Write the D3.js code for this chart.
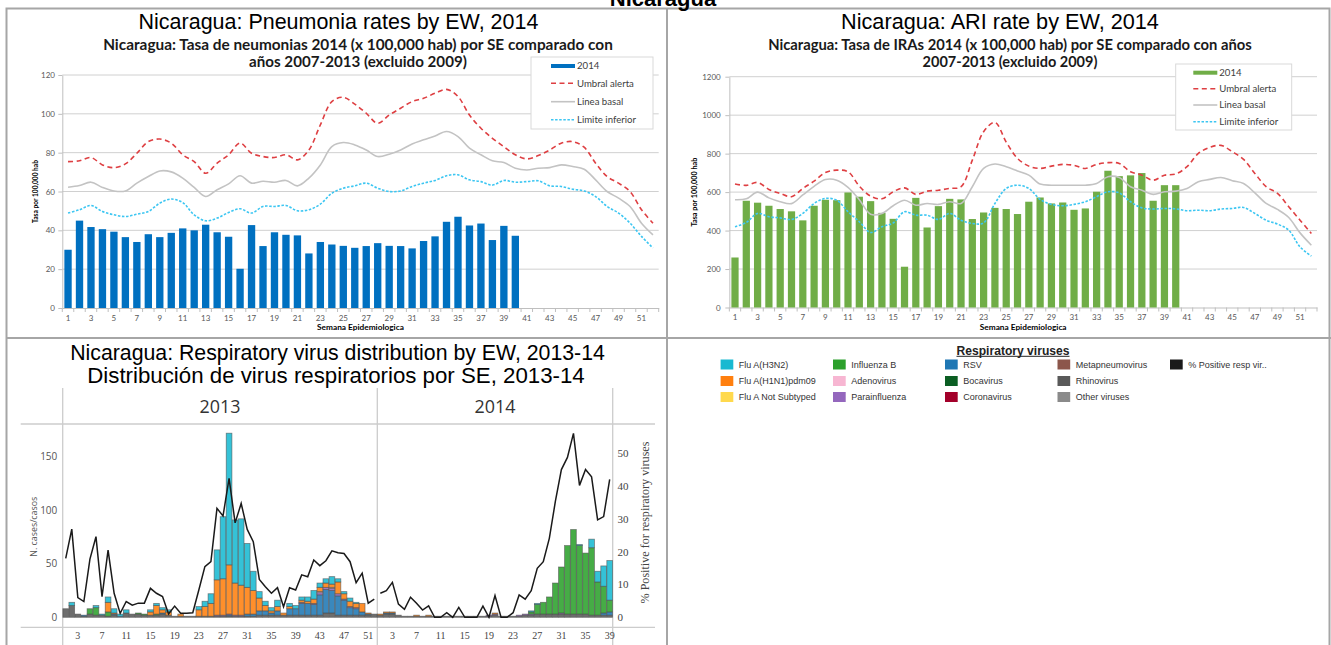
<!DOCTYPE html>
<html><head><meta charset="utf-8">
<script src="https://cdn.jsdelivr.net/npm/d3@7/dist/d3.min.js"></script>
<style>html,body{margin:0;padding:0;background:#fff;} svg{display:block;}</style>
</head><body>
<svg id="chart" width="1331" height="645"></svg>
<script>
// ================= DATA =================
const weeks = d3.range(1, 53);
const weekTickLabels = d3.range(1, 53, 2);
const pneumoniaTicks = [0, 20, 40, 60, 80, 100, 120];
const ariTicks = [0, 200, 400, 600, 800, 1000, 1200];
const rateLegend = ["2014", "Umbral alerta", "Linea basal", "Limite inferior"];

const pneumonia2014 = [30,45,41.7,40.6,39.3,36.5,34,38,36.5,38.7,41,40,42.9,39,36.7,20.2,42.7,31.9,39,37.7,37.4,28.1,34,32.7,32,31,31.9,33.4,32,31.9,30.7,34.5,36.9,44.4,47,42.5,43.5,35,42.3,37.2];
const pneumoniaAlert = [75.4,75.8,77.5,73.7,72.3,74.2,79.7,85.7,87,84.9,78.9,75.4,69.4,74.6,78.9,84.9,79.7,78,77.5,78.9,76.3,81.4,94.3,106.3,108.5,105,100.3,95.1,99.4,102.9,106.3,108,110.6,112.6,108.9,99.4,92.6,87.4,83.1,78.9,76.8,78.5,81.4,84.9,85.7,82.8,74.6,67.7,64.3,60,50.6,43.7];
const pneumoniaBaseline = [62.2,63.1,64.8,62.1,60.3,60.3,64.3,67.7,70.6,70.1,66.9,62.1,57.4,60.9,63.9,68.1,64.3,65.3,64.8,65.7,62.9,66.9,73.7,83.1,85.2,84,81.4,78,79.2,81.4,84.5,86.6,88.6,90.9,88.3,82.3,78.9,75.8,74.9,72,71.1,72,72.3,73.7,72.9,71.5,66,60,56.6,52.3,43.7,37.7];
const pneumoniaLower = [48.9,50.6,52.8,49.7,48,47.1,48.3,49.7,54,56.1,54.3,48,44.9,46.3,49.2,51.1,48.9,52.3,52.3,52.8,50.1,50.6,53.5,59.1,61.7,62.9,64.3,61.7,60,60.3,62.6,64.3,65.7,68.1,68.6,66,65.1,63.3,65.7,64.8,65.1,65.5,62.9,62.6,61.2,60.3,57.4,52.3,48.9,43.7,36.9,30.9];

const ari2014 = [260,555,545,529,512,500,453,529,560,558,598,576,553,492,461,212,570,416,527,565,562,460,494,518,512,486,550,572,541,546,508,515,602,711,683,687,699,555,636,636];
const ariAlert = [642,635,650,614,593,576,619,657,702,714,706,631,579,565,602,622,588,605,610,619,628,766,914,962,860,775,735,723,735,744,739,723,744,753,749,706,688,662,688,694,732,801,832,843,810,770,697,628,593,524,454,385];
const ariBaseline = [560,565,600,570,550,540,585,630,665,662,625,560,485,489,529,558,532,541,536,550,541,628,723,746,732,710,688,642,636,636,636,636,645,680,676,628,610,588,602,605,619,654,666,676,659,645,596,541,510,468,388,324];
const ariLower = [420,442,489,472,466,458,489,541,567,558,498,446,390,420,440,498,480,480,458,489,454,437,440,541,619,636,619,562,536,529,536,550,576,602,596,550,518,512,515,513,503,506,503,512,515,520,489,454,434,402,315,267];

const weeks2013 = d3.range(1, 53);
const weeks2014 = d3.range(1, 40);
const virusTicks2013 = d3.range(3, 52, 4);
const virusTicks2014 = d3.range(3, 40, 4);
const casesTicks = [0, 50, 100, 150];
const pctTicks = [0, 10, 20, 30, 40, 50];
const yearLabels = ["2013", "2014"];

const h3n2_2013  = [0,3,0,0,0,2,1,5,4,2, 3,0,0,0,2,2,2,2,0,0, 0,0,3,5,9,28,58,123,59,62, 41,18,6,4,3,6,0,3,3,3, 4,8,4,4,7,3,2,3,1,0, 0,0];
const h1n1_2013  = [0,0,0,0,0,0,0,9,1,0, 0,0,0,0,3,8,3,3,0,2, 0,0,6,9,12,33,34,46,30,28, 25,22,12,5,2,4,2,2,0,2, 2,4,4,4,3,11,5,5,4,8, 1,0];
const fluB_2013  = [0,0,0,0,5,7,0,4,0,0, 0,0,1,1,0,1,0,0,0,0, 0,0,0,0,0,0,0,0,0,0, 0,0,0,0,0,0,0,0,0,0, 0,0,0,0,0,0,0,0,0,0, 0,0];
const para_2013  = [0,0,0,0,0,0,0,0,0,0, 0,0,0,0,0,0,0,0,0,0, 0,0,0,0,0,1,1,1,1,1, 0,0,0,0,0,0,0,0,0,1, 0,1,2,2,2,2,1,1,1,0, 0,0];
const adeno_2013 = [0,0,0,0,0,0,0,0,0,0, 0,0,0,0,0,0,0,0,0,0, 0,0,0,0,0,0,0,0,0,0, 0,0,0,0,0,0,0,0,0,0, 0,0,1,0,1,0,0,0,0,0, 0,0];
const rsv_2013   = [0,0,0,1,0,0,0,0,1,1, 0,0,0,0,0,0,1,0,0,0, 0,0,0,0,0,0,0,1,0,0, 2,2,4,4,2,4,0,6,6,11, 11,10,19,22,21,18,14,7,6,3, 1,0];
const rhino_2013 = [8,11,3,1,3,2,2,1,2,0, 4,3,3,2,2,2,3,2,1,1, 1,1,1,1,1,1,1,1,1,1, 1,1,2,2,2,2,2,2,2,2, 2,2,2,4,4,2,2,2,2,2, 2,3];
const pct_2013   = [17.9,26.8,6,4.8,17.7,24.5,6.3,20.4,7.3,1.2, 4.8,3.7,4.3,4.3,8.8,7.3,6.3,1,3.4,1.2, 1.2,1.4,8.3,15.4,16.9,33.1,30.8,42.2,28.7,34.6, 26.7,23,11.5,9.3,7.3,9,3.2,9,8.3,12.9, 12.3,17.4,15.7,17.2,20.2,19.6,19.4,16.9,10.5,13.4, 4.3,5.5];

const h3n2_2014  = [0,0,0,0,0,0,0,0,0,0, 0,0,0,0,0,0,0,0,0,0, 0,0,0,0,0,1,1,0,0,0, 0,0,0,1,0,8,10,19,37];
const h1n1_2014  = [1,1,1,0,0,0,1,0,1,0, 0,0,0,0,0,0,0,0,0,1, 0,0,0,0,0,0,0,0,0,0, 0,0,0,0,0,0,0,0,0];
const fluB_2014  = [0,0,0,0,0,0,0,0,0,0, 0,0,0,0,0,0,0,0,0,0, 0,0,0,0,0,2,9,11,16,29, 43,64,79,64,57,63,31,25,11];
const para_2014  = [0,0,0,0,0,0,0,0,0,0, 0,0,0,0,0,0,0,0,1,1, 0,0,0,1,1,1,0,0,0,0, 1,0,0,0,0,0,0,0,0];
const adeno_2014 = [0,0,0,0,0,0,0,0,0,0, 0,0,0,0,0,0,0,0,0,0, 0,0,0,0,0,0,0,0,0,0, 0,0,0,0,0,0,0,0,0];
const rsv_2014   = [0,1,1,0,0,0,0,0,0,0, 0,0,0,0,0,0,0,0,0,0, 0,0,0,0,0,0,0,0,0,0, 0,0,0,0,0,0,0,2,3];
const rhino_2014 = [2,3,3,2,1,1,1,1,1,1, 1,1,1,1,1,1,1,1,1,2, 1,1,1,1,2,2,3,3,3,3, 3,3,3,3,3,2,2,2,2];
const pct_2014   = [7.3,8.1,10.6,4,2.4,6.1,4.3,2.2,3.5,0, 0,1.4,0,3,0,0,0,3.4,0,6.6, 0,0,1.4,6.8,5.5,8.1,14.9,16.9,24,35.2, 44.9,48.6,55.9,40.1,44.9,42.7,29.6,30.6,41.9];

const virusLegendCols = [
  ["Flu A(H3N2)", "Flu A(H1N1)pdm09", "Flu A Not Subtyped"],
  ["Influenza B", "Adenovirus", "Parainfluenza"],
  ["RSV", "Bocavirus", "Coronavirus"],
  ["Metapneumovirus", "Rhinovirus", "Other viruses"],
  ["% Positive resp vir.."]
];
const stackOrder = ["Rhinovirus", "RSV", "Parainfluenza", "Adenovirus", "Influenza B", "Flu A(H1N1)pdm09", "Flu A(H3N2)"];

// ================= STYLES =================
const virusColor = {
  "Flu A(H3N2)": "#19b9d1", "Flu A(H1N1)pdm09": "#ff7f0e", "Flu A Not Subtyped": "#ffd94d",
  "Influenza B": "#2ca02c", "Adenovirus": "#f7b6d2", "Parainfluenza": "#9467bd",
  "RSV": "#1f77b4", "Bocavirus": "#0b5e23", "Coronavirus": "#a3002a",
  "Metapneumovirus": "#8c564b", "Rhinovirus": "#595959", "Other viruses": "#8a8a8a",
  "% Positive resp vir..": "#1a1a1a"
};
const SANS = "'Liberation Sans', Arial, sans-serif";
const CAL = "Lato, 'Open Sans', sans-serif";
const SERIF = "'Liberation Serif', 'Times New Roman', serif";

const svg = d3.select("#chart");

function fitText(sel, width) {
  const len = sel.node().getComputedTextLength();
  const fs = parseFloat(sel.attr("font-size"));
  if (len > 0) sel.attr("font-size", fs * width / len);
  return sel;
}
function txt(g, x, y, s, size, o = {}) {
  const t = g.append("text").attr("x", x).attr("y", y).text(s)
    .attr("font-family", o.family || SANS).attr("font-size", size)
    .attr("fill", o.fill || "#000").attr("font-weight", o.weight || "normal")
    .attr("text-anchor", o.anchor || "middle");
  if (o.rotate) t.attr("transform", `rotate(-90,${x},${y})`);
  if (o.width) fitText(t, o.width);
  return t;
}

// ================= TABLE FRAME =================
const frame = svg.append("g").attr("stroke", "#a6a6a6").attr("stroke-width", 2).attr("fill", "none");
frame.append("rect").attr("x", 6.5).attr("y", 8.5).attr("width", 1323).attr("height", 640);
frame.append("line").attr("x1", 6).attr("x2", 1331).attr("y1", 338).attr("y2", 338);
frame.append("line").attr("x1", 667).attr("x2", 667).attr("y1", 8).attr("y2", 645);
txt(svg, 663, 5.5, "Nicaragua", 22, {weight: "bold"});

// ================= RATE CHARTS =================
function rateChart(o) {
  const g = svg.append("g");
  txt(g, o.titleX, 29, o.title, 20, {width: o.titleW});
  txt(g, o.subX, 50, o.sub1, 13, {family: CAL, weight: "bold", width: o.sub1W, fill: "#1a1a1a"});
  txt(g, o.subX, 67, o.sub2, 13, {family: CAL, weight: "bold", width: o.sub2W, fill: "#1a1a1a"});

  const x = d3.scaleBand().domain(weeks).range([o.l, o.r]).paddingInner(0.36).paddingOuter(0.18);
  const y = d3.scaleLinear().domain([0, o.max]).range([o.y0, o.yTop]);
  const cx = w => x(w) + x.bandwidth() / 2;

  g.append("g").selectAll("line").data(o.ticks.slice(1)).join("line")
    .attr("x1", o.l).attr("x2", o.r).attr("y1", d => y(d)).attr("y2", d => y(d))
    .attr("stroke", "#d0d0d0").attr("stroke-width", 1);

  const ya = g.append("g").attr("transform", `translate(${o.l},0)`)
    .call(d3.axisLeft(y).tickValues(o.ticks).tickFormat(d3.format("d")).tickSize(4).tickSizeOuter(0).tickPadding(o.tickPad));
  ya.select(".domain").attr("stroke", "#bfbfbf");
  ya.selectAll(".tick line").attr("stroke", "#bfbfbf");
  ya.selectAll("text").attr("font-family", CAL).attr("font-size", 8).attr("fill", "#595959");

  const xa = g.append("g").attr("transform", `translate(0,${o.y0})`)
    .call(d3.axisBottom(x).tickValues(weekTickLabels).tickSize(0).tickPadding(7));
  xa.select(".domain").attr("stroke", "#bfbfbf");
  xa.selectAll("text").attr("font-family", CAL).attr("font-size", 8).attr("fill", "#595959");
  g.append("g").selectAll("line").data(d3.range(53)).join("line")
    .attr("x1", i => o.l + i * x.step()).attr("x2", i => o.l + i * x.step())
    .attr("y1", o.y0).attr("y2", o.y0 + 4).attr("stroke", "#bfbfbf");

  txt(g, (o.l + o.r) / 2, 330, "Semana Epidemiologica", 7.5, {family: CAL, weight: "bold", width: 87});
  txt(g, o.yTitleX, (o.y0 + o.yTop) / 2, "Tasa por 100,000 hab", 7, {family: CAL, weight: "bold", rotate: true, width: o.yTitleW});

  g.append("g").selectAll("rect").data(o.bars.map((v, i) => ({w: i + 1, v}))).join("rect")
    .attr("x", d => x(d.w)).attr("width", x.bandwidth())
    .attr("y", d => y(d.v)).attr("height", d => o.y0 - y(d.v)).attr("fill", o.barColor);

  const line = d3.line().x((d, i) => cx(i + 1)).y(d => y(d)).curve(d3.curveCatmullRom.alpha(0.5));
  g.append("path").datum(o.base).attr("d", line).attr("fill", "none").attr("stroke", "#c3c3c3").attr("stroke-width", 1.6);
  g.append("path").datum(o.lower).attr("d", line).attr("fill", "none").attr("stroke", "#3cc6f2").attr("stroke-width", 1.6).attr("stroke-dasharray", "2.5,1.6");
  g.append("path").datum(o.alert).attr("d", line).attr("fill", "none").attr("stroke", "#de3f42").attr("stroke-width", 1.6).attr("stroke-dasharray", "5,3.5");

  // legend
  const lg = g.append("g");
  lg.append("rect").attr("x", o.lg.x).attr("y", o.lg.y).attr("width", o.lg.w).attr("height", o.lg.h)
    .attr("fill", "#fff").attr("stroke", "#d9d9d9");
  const sx = o.lg.sx;
  rateLegend.forEach((name, i) => {
    const yy = o.lg.items[i];
    if (i === 0) lg.append("rect").attr("x", sx).attr("y", yy - 2).attr("width", 24).attr("height", 4).attr("fill", o.barColor);
    else {
      const st = [null, ["#de3f42", "5,3.5"], ["#c3c3c3", null], ["#3cc6f2", "2.5,1.6"]][i];
      lg.append("line").attr("x1", sx).attr("x2", sx + 24).attr("y1", yy).attr("y2", yy)
        .attr("stroke", st[0]).attr("stroke-width", 1.6).attr("stroke-dasharray", st[1]);
    }
    txt(lg, sx + 26, yy + 3.2, name, 9.6, {family: CAL, anchor: "start", fill: "#404040"});
  });
}

rateChart({
  title: "Nicaragua: Pneumonia rates by EW, 2014", titleX: 338.5, titleW: 400,
  sub1: "Nicaragua: Tasa de neumonias 2014 (x 100,000 hab) por SE comparado con",
  sub2: "años 2007-2013 (excluido 2009)", subX: 358, sub1W: 510, sub2W: 218,
  l: 62.3, r: 658.7, y0: 308, yTop: 75, max: 120, ticks: pneumoniaTicks, tickPad: 3.3,
  yTitleX: 37.5, yTitleW: 63,
  bars: pneumonia2014, alert: pneumoniaAlert, base: pneumoniaBaseline, lower: pneumoniaLower,
  barColor: "#0070c0",
  lg: {x: 531, y: 57, w: 122, h: 72, sx: 551, items: [66, 83.3, 101.7, 119.7]}
});
rateChart({
  title: "Nicaragua: ARI rate by EW, 2014", titleX: 1000, titleW: 318,
  sub1: "Nicaragua: Tasa de IRAs 2014 (x 100,000 hab) por SE comparado con años",
  sub2: "2007-2013 (excluido 2009)", subX: 1010, sub1W: 484, sub2W: 175,
  l: 729.35, r: 1317, y0: 307.5, yTop: 76.7, max: 1200, ticks: ariTicks, tickPad: 4.6,
  yTitleX: 697.5, yTitleW: 69,
  bars: ari2014, alert: ariAlert, base: ariBaseline, lower: ariLower,
  barColor: "#70ad47",
  lg: {x: 1175.7, y: 64, w: 116, h: 66, sx: 1193.3, items: [72.7, 88.7, 105, 121.7]}
});

// ================= VIRUS CHART =================
const vg = svg.append("g");
txt(vg, 337.5, 360, "Nicaragua: Respiratory virus distribution by EW, 2013-14", 20, {width: 535});
txt(vg, 336, 383, "Distribución de virus respiratorios por SE, 2013-14", 20, {width: 498});

const yTop = 424, yBase = 617.3;
const yCases = d3.scaleLinear().domain([0, 180.6]).range([yBase, yTop]);
const yPct = d3.scaleLinear().domain([0, 58.75]).range([yBase, yTop]);
const x2013 = d3.scaleBand().domain(weeks2013).range([62.7, 377.3]).paddingInner(0.06).paddingOuter(0.03);
const x2014 = d3.scaleBand().domain(weeks2014).range([377.3, 612.7]).paddingInner(0.06).paddingOuter(0.03);

// frame lines
const fl = vg.append("g").attr("stroke", "#cccccc").attr("stroke-width", 1.3);
fl.append("line").attr("x1", 20.7).attr("x2", 655).attr("y1", yTop).attr("y2", yTop);
fl.append("line").attr("x1", 20.7).attr("x2", 655).attr("y1", 627.3).attr("y2", 627.3);
[62.7, 377.3, 612.7].forEach(xx => fl.append("line").attr("x1", xx).attr("x2", xx).attr("y1", 388).attr("y2", 645));

txt(vg, 220, 412.7, yearLabels[0], 17, {family: "'Open Sans', sans-serif", fill: "#333", width: 41});
txt(vg, 495, 412.7, yearLabels[1], 17, {family: "'Open Sans', sans-serif", fill: "#333", width: 41});

function panel(x, wk, ser, pct, ticks) {
  const rows = wk.map((w, i) => {
    const r = {week: w};
    stackOrder.forEach(k => r[k] = ser[k][i]);
    return r;
  });
  const stacked = d3.stack().keys(stackOrder)(rows);
  const g = vg.append("g");
  stacked.forEach(layer => {
    g.append("g").selectAll("rect").data(layer.filter(d => d[1] - d[0] > 0)).join("rect")
      .attr("x", d => x(d.data.week)).attr("width", x.bandwidth())
      .attr("y", d => yCases(d[1])).attr("height", d => yCases(d[0]) - yCases(d[1]))
      .attr("fill", virusColor[layer.key]).attr("fill-opacity", 0.88)
      .attr("stroke", "#4d4d4d").attr("stroke-opacity", 0.65).attr("stroke-width", 0.8);
  });
  const line = d3.line().x((d, i) => x(wk[i]) + x.bandwidth() / 2).y(d => yPct(d));
  g.append("path").datum(pct).attr("d", line).attr("fill", "none")
    .attr("stroke", virusColor["% Positive resp vir.."]).attr("stroke-width", 1.5);
  const ax = g.append("g").attr("transform", "translate(0,627.3)")
    .call(d3.axisBottom(x).tickValues(ticks).tickSize(0).tickPadding(5));
  ax.select(".domain").remove();
  ax.selectAll("text").attr("font-family", SERIF).attr("font-size", 10).attr("fill", "#444");
}
panel(x2013, weeks2013, {
  "Flu A(H3N2)": h3n2_2013, "Flu A(H1N1)pdm09": h1n1_2013, "Influenza B": fluB_2013,
  "Parainfluenza": para_2013, "Adenovirus": adeno_2013, "RSV": rsv_2013, "Rhinovirus": rhino_2013
}, pct_2013, virusTicks2013);
panel(x2014, weeks2014, {
  "Flu A(H3N2)": h3n2_2014, "Flu A(H1N1)pdm09": h1n1_2014, "Influenza B": fluB_2014,
  "Parainfluenza": para_2014, "Adenovirus": adeno_2014, "RSV": rsv_2014, "Rhinovirus": rhino_2014
}, pct_2014, virusTicks2014);

const la = vg.append("g").attr("transform", "translate(62.7,0)")
  .call(d3.axisLeft(yCases).tickValues(casesTicks).tickSize(0).tickPadding(5.4));
la.select(".domain").remove();
la.selectAll("text").attr("font-family", "'Open Sans', sans-serif").attr("font-size", 10).attr("fill", "#555");
const ra = vg.append("g").attr("transform", "translate(612.7,0)")
  .call(d3.axisRight(yPct).tickValues(pctTicks).tickSize(0).tickPadding(4.8));
ra.select(".domain").remove();
ra.selectAll("text").attr("font-family", SERIF).attr("font-size", 11).attr("fill", "#444");

txt(vg, 37, 526.7, "N. cases/casos", 10.5, {family: "'Open Sans', sans-serif", fill: "#555", rotate: true, width: 60});
txt(vg, 649, 522.5, "% Positive for respiratory viruses", 11.5, {family: SERIF, fill: "#444", rotate: true, width: 162});

// ================= VIRUS LEGEND =================
const lgv = svg.append("g");
txt(lgv, 1013, 354.5, "Respiratory viruses", 11, {weight: "bold", fill: "#222", width: 113});
lgv.append("line").attr("x1", 1013 - 56.5).attr("x2", 1013 + 56.5).attr("y1", 356.3).attr("y2", 356.3)
  .attr("stroke", "#222").attr("stroke-width", 1);
const colX = [720.6, 833, 945, 1057.5, 1170];
const rowY = [364.5, 381, 397];
virusLegendCols.forEach((col, ci) => {
  col.forEach((name, ri) => {
    lgv.append("rect").attr("x", colX[ci]).attr("y", rowY[ri] - 5).attr("width", 12.7).attr("height", 10)
      .attr("fill", virusColor[name]);
    txt(lgv, colX[ci] + 18.2, rowY[ri] + 3.3, name, 9, {anchor: "start", fill: "#333"});
  });
});
</script>
</body></html>
